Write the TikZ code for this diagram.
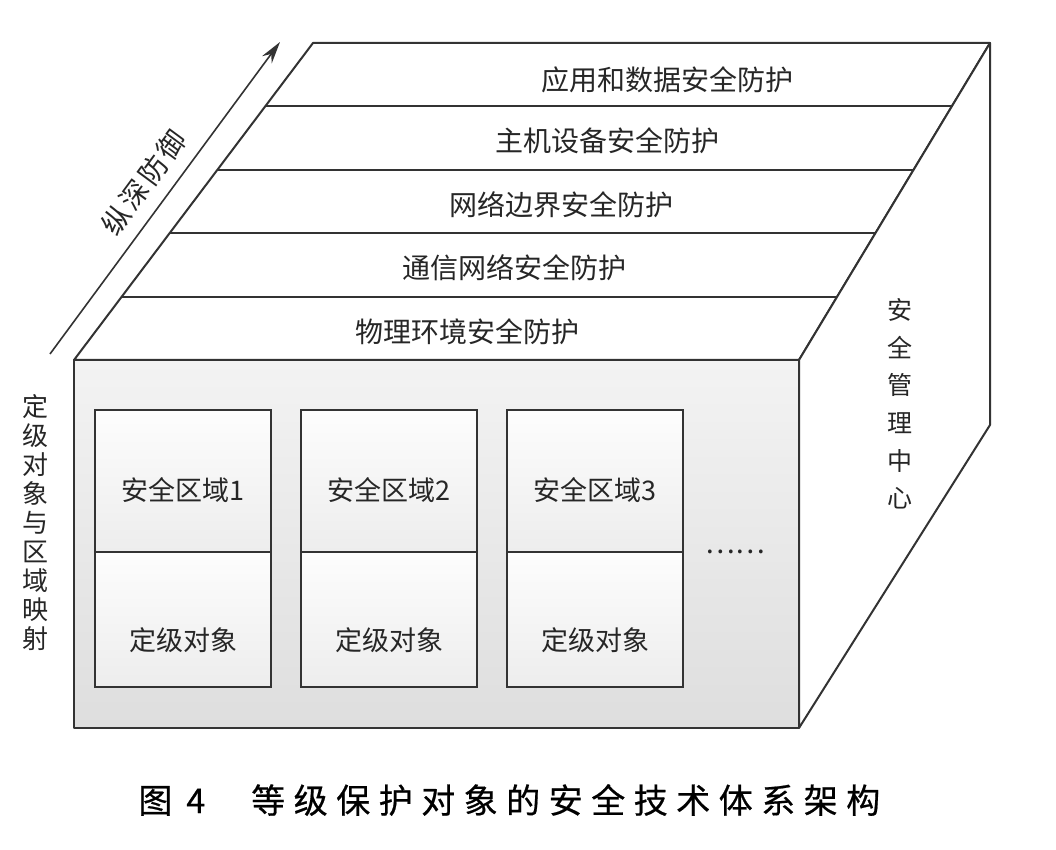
\documentclass[tikz,border=0pt]{standalone}
\usepackage{fontspec}
\usepackage{tikz}
\usetikzlibrary{arrows.meta,positioning,calc}
\newfontfamily\cjk{Noto Sans CJK SC}
\newfontfamily\cjkwide[LetterSpace=10]{Noto Sans CJK SC}
\newfontfamily\capfont[FakeBold=0.6]{Noto Sans CJK SC}
\newfontfamily\captitle[LetterSpace=25,FakeBold=0.6]{Noto Sans CJK SC}
\definecolor{edgegray}{HTML}{333333}
\definecolor{frontA}{HTML}{F3F3F3}
\definecolor{frontB}{HTML}{DEDEDE}
\definecolor{boxA}{HTML}{FDFDFD}
\definecolor{boxB}{HTML}{EDEDED}

\begin{document}
\begin{tikzpicture}[
	x=0.5pt, y=-0.5pt,
	font=\cjk\fontsize{14}{16}\selectfont,
	>={Stealth[length=11pt,width=6pt]},
	face/.style={draw=edgegray, line width=1pt, line join=round, fill=white},
	front/.style={face, top color=frontA, bottom color=frontB},
	zone/.style={rectangle, draw=edgegray, line width=1pt, outer sep=0pt, inner sep=0pt, minimum width=88pt, top color=boxA, bottom color=boxB, font=\cjk\fontsize{13.5}{15}\selectfont, text=black!85},
	zonetop/.style={zone, minimum height=71pt, text height=22pt, text depth=2pt},
	zonebot/.style={zone, minimum height=67.5pt, text height=33pt, text depth=2pt},
	layer/.style={text=black!85},
	vlabel/.style={align=center, inner sep=0pt, text=black!85},
]
\useasboundingbox (0,0) rectangle (1056,850);
% corners of the block
\coordinate (ftl) at (74,360);
\coordinate (ftr) at (799,360);
\coordinate (btl) at (313,43);
\coordinate (btr) at (990,43);
\coordinate (bbr) at (990,425);
\coordinate (fbr) at (799,728);
\coordinate (fbl) at (74,728);
% top face with its five layers
\draw[face] (ftl) -- (btl) -- (btr) -- (ftr) -- cycle;
\foreach \t in {0.2,0.4,0.6,0.8}
	\draw[edgegray, line width=1pt] ($(ftl)!\t!(btl)$) -- ($(ftr)!\t!(btr)$);
\node[layer] (L1) at (667,80) {应用和数据安全防护};
\node[layer] (L2) at (607,141) {主机设备安全防护};
\node[layer] (L3) at (561,205) {网络边界安全防护};
\node[layer] (L4) at (514,268) {通信网络安全防护};
\node[layer] (L5) at (467,332) {物理环境安全防护};
% right face
\draw[face] (ftr) -- (btr) -- (bbr) -- (fbr) -- cycle;
\node[vlabel, font=\cjk\fontsize{12.5}{18.8}\selectfont] (smc) at (900,404) {安\\全\\管\\理\\中\\心};
% front face
\draw[front] (ftl) rectangle (fbr);
\node[zonetop] (z1a) at (183,481) {安全区域1};
\node[zonebot] (z1b) [below=0pt of z1a] {定级对象};
\node[zonetop] (z2a) [right=15pt of z1a] {安全区域2};
\node[zonebot] (z2b) [below=0pt of z2a] {定级对象};
\node[zonetop] (z3a) [right=15pt of z2a] {安全区域3};
\node[zonebot] (z3b) [below=0pt of z3a] {定级对象};
\node[text=black!85, inner sep=0pt] (more) at (735,552) {……};
% left side
\node[vlabel, font=\cjk\fontsize{13}{14.5}\selectfont] (map) at (35,523) {定\\级\\对\\象\\与\\区\\域\\映\\射};
\coordinate (d0) at (50,354);
\coordinate (d1) at (280,42);
\draw[->, edgegray, line width=0.8pt] (d0) -- node[sloped, above=3pt, font=\cjkwide\fontsize{14}{16}\selectfont, text=black!85] (depth) {纵深防御} (d1);
% caption
\node[anchor=west, inner sep=0pt, font=\capfont\fontsize{17}{20}\selectfont] (cap) at (138,800) {图\hspace{7pt}4\hspace{23pt}{\captitle 等级保护对象的安全技术体系架构}};
\end{tikzpicture}
\end{document}
